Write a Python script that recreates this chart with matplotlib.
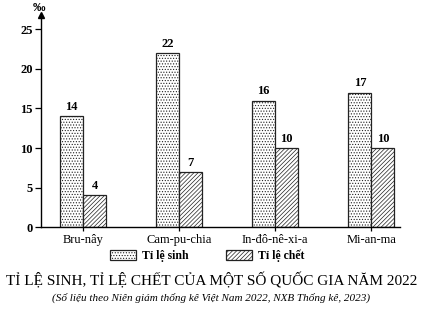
import matplotlib
matplotlib.use("Agg")
import matplotlib.pyplot as plt
import numpy as np
from matplotlib.patches import Patch

countries = ["Bru-nây", "Cam-pu-chia", "In-đô-nê-xi-a", "Mi-an-ma"]
birth = [14, 22, 16, 17]
death = [4, 7, 10, 10]
yticks = [0, 5, 10, 15, 20, 25]

plt.rcParams['font.family'] = ['Liberation Serif', 'DejaVu Serif']
plt.rcParams['hatch.linewidth'] = 0.5
plt.rcParams['hatch.color'] = '#444444'

fig = plt.figure(figsize=(4.23, 3.09), dpi=100)
ax = fig.add_axes([0.097, 0.265, 0.849, 0.686])

x = np.arange(len(countries))
w = 0.24
hb, hd = '......', '////////'
ax.bar(x - w/2, birth, w, facecolor='white', edgecolor='#222222', hatch=hb, linewidth=0.9, label='Tỉ lệ sinh')
ax.bar(x + w/2, death, w, facecolor='white', edgecolor='#222222', hatch=hd, linewidth=0.9, label='Tỉ lệ chết')

for xi, v in zip(x - w/2, birth):
    ax.text(xi, v + 0.4, str(v), ha='center', va='bottom', fontsize=9, fontweight='bold')
for xi, v in zip(x + w/2, death):
    ax.text(xi, v + 0.4, str(v), ha='center', va='bottom', fontsize=9, fontweight='bold')

ax.set_xlim(-0.4375, 3.30)
ax.set_ylim(0, 26.8)
ax.set_yticks(yticks)
ax.set_yticklabels([str(t) for t in yticks], fontsize=9, fontweight='bold')
ax.set_xticks(x)
ax.set_xticklabels(countries, fontsize=9)
ax.spines['top'].set_visible(False)
ax.spines['right'].set_visible(False)
for s in ('left', 'bottom'):
    ax.spines[s].set_linewidth(1.0)
ax.tick_params(axis='y', direction='out', length=4, width=0.9, pad=2)
ax.tick_params(axis='x', direction='out', length=3, width=0.9, pad=2)
ax.plot(0, 1, marker='^', transform=ax.transAxes, color='black', markersize=4, clip_on=False)
fig.text(0.092, 0.975, '‰', ha='center', va='center', fontsize=9, fontweight='bold')

handles = [Patch(facecolor='white', edgecolor='#222222', hatch=hb, linewidth=0.9, label='Tỉ lệ sinh'),
           Patch(facecolor='white', edgecolor='#222222', hatch=hd, linewidth=0.9, label='Tỉ lệ chết')]
fig.legend(handles=handles, loc='center', bbox_to_anchor=(0.49, 0.172), ncol=2, frameon=False,
           prop={'size': 8.5, 'weight': 'bold'}, handlelength=2.2, handleheight=1.0, columnspacing=3.2, handletextpad=0.5)

fig.text(0.5, 0.093, 'TỈ LỆ SINH, TỈ LỆ CHẾT CỦA MỘT SỐ QUỐC GIA NĂM 2022', ha='center', va='center', fontsize=11)
fig.text(0.5, 0.035, '(Số liệu theo Niên giám thống kê Việt Nam 2022, NXB Thống kê, 2023)', ha='center', va='center', fontsize=8, style='italic')

fig.savefig('out.png', dpi=100)
